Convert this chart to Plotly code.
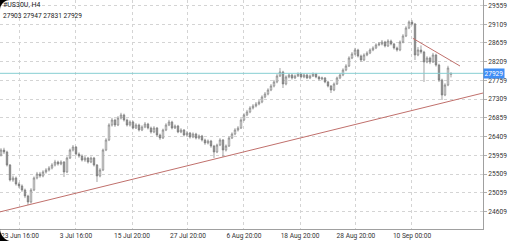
import plotly.graph_objects as go

# ---------------- data ----------------
opens = [
    25966, 26086, 26038, 25726, 25366, 25414, 25270, 25222, 25125, 24981,
    24837, 25125, 25414, 25510, 25462, 25558, 25606, 25654, 25726, 25798,
    25750, 25798, 25558, 25894, 26086, 26158, 25990, 25942, 25846, 25894,
    25798, 25894, 25726, 25462, 25606, 26086, 26327, 26687, 26807, 26687,
    26855, 26928, 26807, 26687, 26759, 26615, 26687, 26567, 26639, 26711,
    26615, 26519, 26615, 26447, 26375, 26567, 26687, 26759, 26615, 26663,
    26519, 26567, 26447, 26495, 26399, 26471, 26375, 26423, 26327, 26255,
    26303, 26182, 26038, 26206, 26327, 26086, 26182, 26375, 26471, 26567,
    26615, 26807, 26928, 27000, 27096, 27144, 27192, 27240, 27360, 27432,
    27528, 27624, 27721, 27865, 27961, 27673, 27841, 27889, 27817, 27865,
    27913, 27841, 27889, 27817, 27865, 27913, 27841, 27793, 27817, 27721,
    27624, 27528, 27673, 27817, 27889, 28009, 28105, 28297, 28393, 28490,
    28345, 28249, 28369, 28417, 28490, 28538, 28610, 28634, 28682, 28586,
    28706, 28634, 28538, 28490, 28682, 28826, 29018, 29162, 29114, 28369,
    28490, 28441, 28201, 28297, 28201, 28369, 28129, 27769, 27408, 27648,
    27903,
]
highs = [
    26130, 26140, 26070, 25750, 25470, 25450, 25310, 25260, 25160, 25010,
    25170, 25450, 25560, 25560, 25600, 25650, 25700, 25770, 25850, 25830,
    25840, 25820, 25930, 26120, 26206, 26180, 26030, 25980, 25940, 25920,
    25930, 25920, 25750, 25650, 26120, 26370, 26730, 26860, 26840, 26900,
    26980, 26960, 26840, 26800, 26790, 26730, 26720, 26680, 26760, 26740,
    26650, 26660, 26640, 26480, 26600, 26730, 26810, 26790, 26700, 26690,
    26610, 26590, 26540, 26520, 26510, 26500, 26460, 26450, 26360, 26340,
    26330, 26210, 26240, 26370, 26350, 26220, 26410, 26510, 26610, 26660,
    26850, 26970, 27050, 27140, 27190, 27240, 27290, 27400, 27480, 27570,
    27670, 27770, 27910, 28057, 27990, 27880, 27930, 27920, 27900, 27950,
    27940, 27930, 27920, 27900, 27950, 27940, 27870, 27850, 27840, 27750,
    27650, 27710, 27850, 27930, 28050, 28150, 28340, 28440, 28540, 28520,
    28380, 28410, 28460, 28530, 28580, 28650, 28680, 28730, 28710, 28750,
    28740, 28660, 28570, 28720, 28870, 29060, 29200, 29210, 29140, 28560,
    28600, 28470, 28340, 28330, 28420, 28400, 28160, 27800, 27690, 28110,
    27947,
]
lows = [
    25930, 25990, 25690, 25330, 25320, 25230, 25170, 25080, 24930, 24765,
    24800, 25100, 25380, 25420, 25430, 25520, 25570, 25620, 25690, 25710,
    25720, 25438, 25530, 25870, 26050, 25950, 25900, 25810, 25800, 25760,
    25770, 25690, 25318, 25430, 25580, 26060, 26300, 26650, 26640, 26660,
    26820, 26770, 26650, 26650, 26580, 26590, 26530, 26540, 26610, 26580,
    26480, 26490, 26410, 26330, 26350, 26540, 26660, 26580, 26590, 26490,
    26490, 26410, 26420, 26360, 26370, 26340, 26340, 26290, 26210, 26220,
    26140, 25894, 26010, 26180, 25918, 26050, 26160, 26350, 26440, 26530,
    26590, 26780, 26900, 26970, 27060, 27110, 27160, 27210, 27330, 27400,
    27500, 27590, 27690, 27840, 27576, 27640, 27810, 27780, 27790, 27840,
    27810, 27810, 27790, 27790, 27840, 27810, 27760, 27760, 27690, 27590,
    27456, 27500, 27650, 27790, 27860, 27980, 28080, 28270, 28360, 28310,
    28210, 28220, 28340, 28390, 28460, 28510, 28580, 28600, 28550, 28560,
    28600, 28500, 28450, 28460, 28650, 28800, 28990, 29080, 28249, 28340,
    28400, 27721, 28170, 28150, 28180, 28090, 27720, 27288, 27380, 27620,
    27831,
]
closes = [
    26086, 26038, 25726, 25366, 25414, 25270, 25222, 25125, 24981, 24837,
    25125, 25414, 25510, 25462, 25558, 25606, 25654, 25726, 25798, 25750,
    25798, 25558, 25894, 26086, 26158, 25990, 25942, 25846, 25894, 25798,
    25894, 25726, 25462, 25606, 26086, 26327, 26687, 26807, 26687, 26855,
    26928, 26807, 26687, 26759, 26615, 26687, 26567, 26639, 26711, 26615,
    26519, 26615, 26447, 26375, 26567, 26687, 26759, 26615, 26663, 26519,
    26567, 26447, 26495, 26399, 26471, 26375, 26423, 26327, 26255, 26303,
    26182, 26038, 26206, 26327, 26086, 26182, 26375, 26471, 26567, 26615,
    26807, 26928, 27000, 27096, 27144, 27192, 27240, 27360, 27432, 27528,
    27624, 27721, 27865, 27961, 27673, 27841, 27889, 27817, 27865, 27913,
    27841, 27889, 27817, 27865, 27913, 27841, 27793, 27817, 27721, 27624,
    27528, 27673, 27817, 27889, 28009, 28105, 28297, 28393, 28490, 28345,
    28249, 28369, 28417, 28490, 28538, 28610, 28634, 28682, 28586, 28706,
    28634, 28538, 28490, 28682, 28826, 29018, 29162, 29114, 28369, 28490,
    28441, 28201, 28297, 28201, 28369, 28129, 27769, 27408, 27648, 28057,
    27929,
]

x_tick_pos = [6.33, 25.0, 43.67, 62.33, 81.0, 99.67, 118.33, 137.0]
x_tick_text = ["23 Jun 16:00", "3 Jul 16:00", "15 Jul 20:00", "27 Jul 20:00",
               "6 Aug 20:00", "18 Aug 20:00", "28 Aug 20:00", "10 Sep 00:00"]
y_tick_vals = [24609, 25059, 25509, 25959, 26409, 26859, 27309, 27759,
               28209, 28659, 29109, 29559]
y_tick_text = [str(v) for v in y_tick_vals]

support_anchor_x = [9, 74]
support_anchor_y = [24765, 25918]
resist_x = [137.3, 153.0]
resist_y = [28770, 28105]

symbol_title = "#US30U, H4"
ohlc_line = "27903 27947 27831 27929"
last_price = 27929

x_range = [-0.33, 160.67]
y_range = [24188, 29691]

# ---------------- figure ----------------
bars = list(range(len(closes)))
fig = go.Figure()

# price line
fig.add_trace(go.Scatter(x=x_range, y=[last_price, last_price], mode="lines",
                         line=dict(color="#86cfd2", width=1), hoverinfo="skip"))

fig.add_trace(go.Candlestick(
    x=bars, open=opens, high=highs, low=lows, close=closes,
    increasing=dict(line=dict(color="#7a7a7a", width=0.7), fillcolor="#ffffff"),
    decreasing=dict(line=dict(color="#7a7a7a", width=0.7), fillcolor="#8a8a8a"),
    whiskerwidth=0,
))

# support trend line (ray through two anchors, extended over axis range)
slope = (support_anchor_y[1] - support_anchor_y[0]) / (support_anchor_x[1] - support_anchor_x[0])
sx = [x_range[0], x_range[1]]
sy = [support_anchor_y[0] + slope * (v - support_anchor_x[0]) for v in sx]
fig.add_trace(go.Scatter(x=sx, y=sy, mode="lines",
                         line=dict(color="#c0706c", width=1), hoverinfo="skip"))
fig.add_trace(go.Scatter(x=resist_x, y=resist_y, mode="lines",
                         line=dict(color="#c0706c", width=1), hoverinfo="skip"))

fig.update_layout(
    width=515, height=241,
    margin=dict(l=0, r=32, t=0, b=12),
    paper_bgcolor="white", plot_bgcolor="white",
    showlegend=False,
    font=dict(family="Roboto", size=6.6, color="#333333"),
)
fig.update_xaxes(
    range=x_range, tickmode="array", tickvals=x_tick_pos, ticktext=x_tick_text,
    showgrid=True, gridcolor="#d4d4d4", griddash="dot", gridwidth=1,
    showline=True, linecolor="#a0a0a0", linewidth=1,
    ticks="", zeroline=False, rangeslider_visible=False,
    tickfont=dict(size=6.6, color="#333333"),
)
fig.update_yaxes(
    side="right", range=y_range, tickmode="array",
    tickvals=y_tick_vals, ticktext=y_tick_text,
    ticks="outside", ticklen=3, tickcolor="#b0b0b0",
    showgrid=True, gridcolor="#d4d4d4", griddash="dot", gridwidth=1,
    showline=True, linecolor="#a0a0a0", linewidth=1, zeroline=False,
    tickfont=dict(size=6.6, color="#333333"),
)

# header texts
fig.add_annotation(text=symbol_title, xref="paper", yref="paper", x=0.0, y=1.0,
                   xanchor="left", yanchor="top", showarrow=False, xshift=1, yshift=1,
                   font=dict(size=7, color="#222222"))
fig.add_annotation(text=ohlc_line, xref="paper", yref="paper", x=0.0, y=1.0,
                   xanchor="left", yanchor="top", showarrow=False, xshift=1, yshift=-10,
                   font=dict(size=6.6, color="#222222"))
# price tag
fig.add_annotation(text=str(last_price), xref="paper", yref="y", x=1.0, y=last_price,
                   xanchor="left", yanchor="middle", showarrow=False,
                   bgcolor="#3f8ef5", font=dict(size=6.6, color="white"), borderpad=0.5)

# phone screen rounded corners (top-left and bottom-left of the screenshot)
fig.add_shape(type="path", xref="paper", yref="paper", xsizemode="pixel", ysizemode="pixel",
              xanchor=0, yanchor=1, path="M0,0 L10,0 C4.5,0 0,-4.5 0,-10 Z",
              fillcolor="black", line=dict(width=0), layer="above")
fig.add_shape(type="path", xref="paper", yref="paper", xsizemode="pixel", ysizemode="pixel",
              xanchor=0, yanchor=0, path="M0,-12.5 L13,-12.5 C5.8,-12.5 0,-6.7 0,0.5 Z",
              fillcolor="black", line=dict(width=0), layer="above")

fig.write_html("out.html")
